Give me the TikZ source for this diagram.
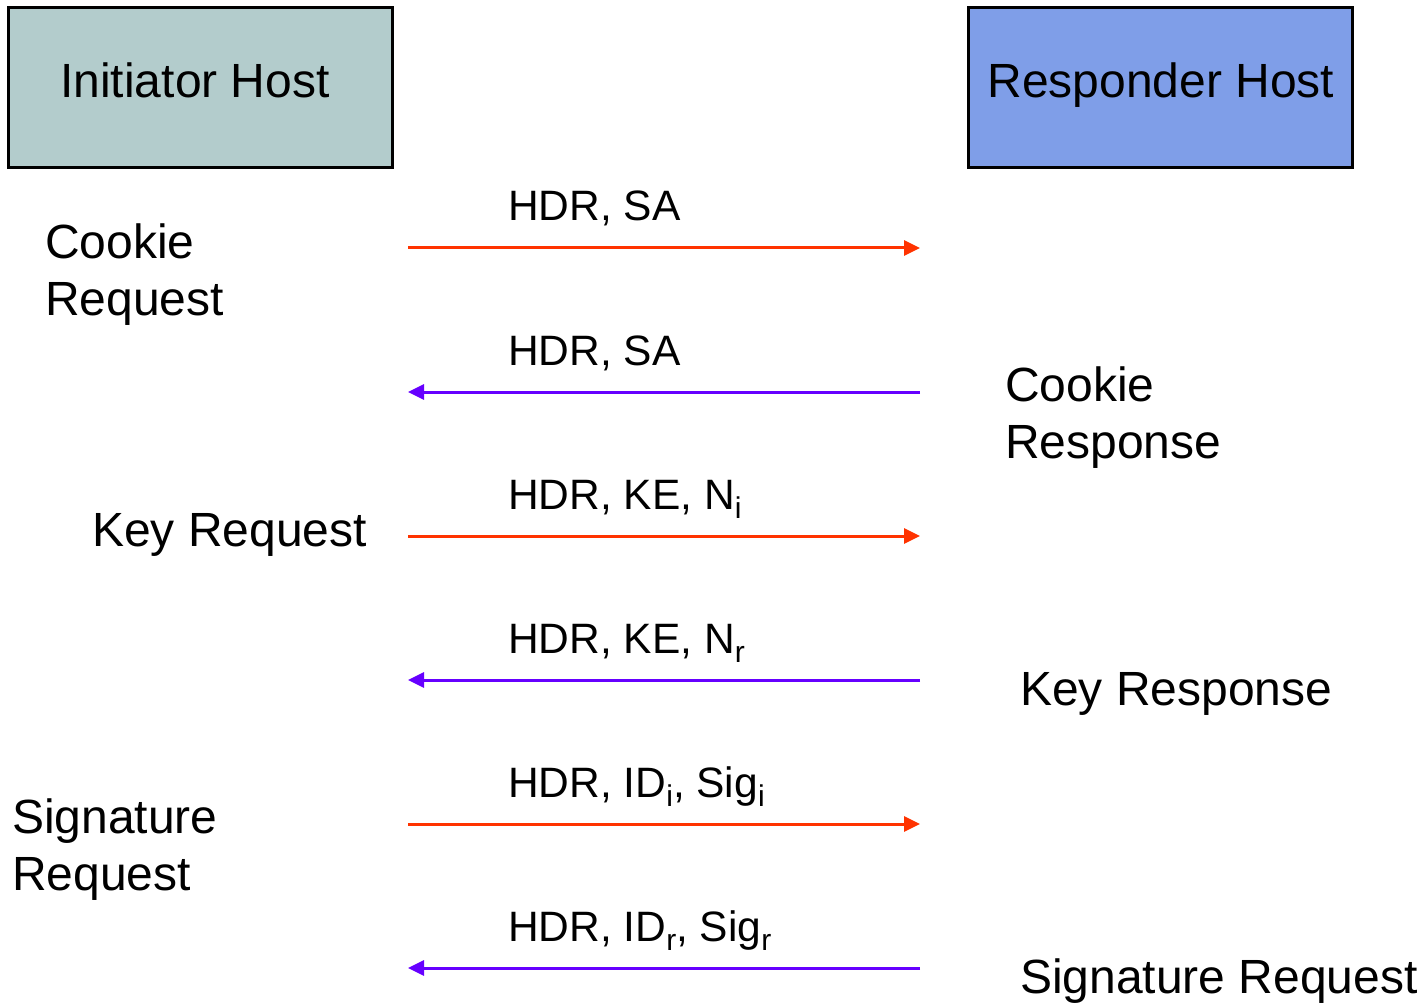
\documentclass[tikz,border=0pt]{standalone}
\usepackage{fontspec}
\setmainfont{Liberation Sans}
\usetikzlibrary{arrows.meta}
\definecolor{initfill}{HTML}{B3CCCC}
\definecolor{respfill}{HTML}{7F9EE8}
\definecolor{reqline}{HTML}{FF3300}
\definecolor{respline}{HTML}{6600FF}
\newcommand{\lowidx}[1]{\raisebox{-0.22em}{\fontsize{30}{31}\selectfont #1}}
\begin{document}
\begin{tikzpicture}[x=1pt,y=-1pt,
  hostbox/.style={draw=black,line width=3pt,minimum width=384pt,minimum height=160pt,inner sep=0pt},
  hosttext/.style={anchor=base,inner sep=0pt,font=\fontsize{48}{58}\selectfont},
  msg/.style={line width=3pt,-{Triangle[length=16pt,width=15pt]}},
  req/.style={msg,draw=reqline},
  rsp/.style={msg,draw=respline},
  lbl/.style={anchor=base west,inner sep=0pt,align=left,font=\fontsize{48}{57}\selectfont},
  msglbl/.style={anchor=base west,inner sep=0pt,font=\fontsize{42.5}{50}\selectfont}]
\useasboundingbox (0,0) rectangle (1425,1003);

% hosts
\node[hostbox,fill=initfill] (init) at (200,88) {};
\node[hostbox,fill=respfill] (resp) at (1160,88) {};
\node[hosttext] (inittext) at (195,98) {Initiator Host};
\node[hosttext] (resptext) at (1161,98) {Responder Host};

% endpoints of the message lines
\foreach \i/\y in {1/248,2/392,3/536,4/680,5/824,6/968}{
  \coordinate (L\i) at (408,\y);
  \coordinate (R\i) at (920,\y);
}

% messages
\draw[req] (L1) -- (R1);
\draw[rsp] (R2) -- (L2);
\draw[req] (L3) -- (R3);
\draw[rsp] (R4) -- (L4);
\draw[req] (L5) -- (R5);
\draw[rsp] (R6) -- (L6);

\node[msglbl] (m1) at (508,221) {HDR, SA};
\node[msglbl] (m2) at (508,365) {HDR, SA};
\node[msglbl] (m3) at (508,509) {HDR, KE, N\lowidx{i}};
\node[msglbl] (m4) at (508,653) {HDR, KE, N\lowidx{r}};
\node[msglbl] (m5) at (508,797) {HDR, ID\lowidx{i}, Sig\lowidx{i}};
\node[msglbl] (m6) at (508,941) {HDR, ID\lowidx{r}, Sig\lowidx{r}};

% phase labels (base anchor sits on the last line)
\node[lbl] (cookiereq) at (45,315) {Cookie\\Request};
\node[lbl] (keyreq) at (92,546) {Key Request};
\node[lbl] (sigreq) at (12,890) {Signature\\Request};
\node[lbl] (cookieresp) at (1005,458) {Cookie\\Response};
\node[lbl] (keyresp) at (1020,705) {Key Response};
\node[lbl] (sigresp) at (1020,993) {Signature Request};
\end{tikzpicture}
\end{document}
